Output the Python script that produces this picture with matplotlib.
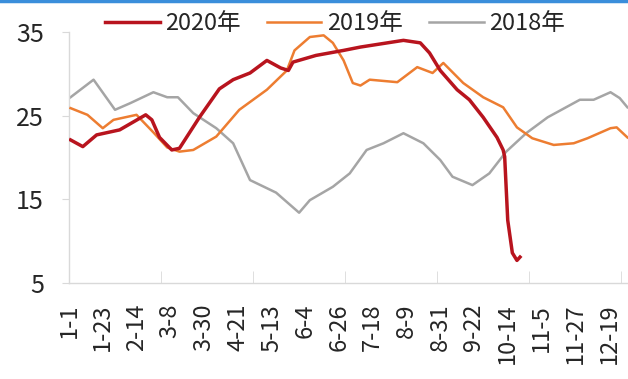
import matplotlib
matplotlib.use("Agg")
import matplotlib.pyplot as plt
from matplotlib.lines import Line2D

plt.rcParams['font.family'] = ['Noto Sans CJK SC', 'DejaVu Sans']
plt.rcParams['font.weight'] = 'medium'

# tick labels (every 22 days)
tick_days = list(range(0, 353, 22))
tick_labels = ['1-1', '1-23', '2-14', '3-8', '3-30', '4-21', '5-13', '6-4', '6-26',
               '7-18', '8-9', '8-31', '9-22', '10-14', '11-5', '11-27', '12-19']

# 2020 (day of year, value)
d2020 = [1, 9, 18, 33, 50, 54, 59, 67, 72, 85, 98, 107, 118, 129, 138, 143, 146, 161,
         179, 190, 218, 229, 235, 242, 253, 261, 270, 279, 283, 284, 286, 289, 292, 294]
v2020 = [22.1, 21.3, 22.7, 23.3, 25.1, 24.5, 22.4, 20.9, 21.1, 24.8, 28.2, 29.3, 30.1,
         31.6, 30.7, 30.4, 31.4, 32.2, 32.8, 33.2, 34.0, 33.7, 32.5, 30.4, 28.1, 26.9,
         24.8, 22.4, 20.9, 20.1, 12.5, 8.6, 7.7, 8.1]

# 2019
d2019 = [1, 12, 22, 29, 44, 55, 64, 72, 81, 96, 111, 129, 142, 147, 157, 166, 172, 179,
         185, 190, 196, 214, 227, 237, 244, 257, 270, 283, 292, 302, 316, 329, 338, 353,
         357, 364]
v2019 = [25.9, 25.1, 23.5, 24.5, 25.1, 23.0, 21.2, 20.7, 20.9, 22.5, 25.7, 28.1, 30.4,
         32.8, 34.4, 34.6, 33.7, 31.6, 28.9, 28.6, 29.3, 29.0, 30.8, 30.1, 31.3, 28.9,
         27.2, 26.0, 23.6, 22.3, 21.5, 21.7, 22.3, 23.5, 23.6, 22.4]

# 2018
d2018 = [1, 16, 30, 40, 55, 64, 71, 81, 96, 107, 118, 135, 150, 157, 172, 183, 194, 205,
         218, 231, 242, 250, 263, 274, 285, 298, 312, 333, 342, 353, 359, 364]
v2018 = [27.2, 29.3, 25.7, 26.5, 27.8, 27.2, 27.2, 25.3, 23.5, 21.7, 17.3, 15.8, 13.4,
         14.9, 16.5, 18.1, 20.9, 21.7, 22.9, 21.7, 19.7, 17.7, 16.7, 18.1, 20.7, 22.9,
         24.8, 26.9, 26.9, 27.8, 27.1, 26.0]

fig = plt.figure(figsize=(6.28, 3.79), dpi=100)
ax = fig.add_axes([0.1099, 0.2533, 0.8901, 0.6623])

ax.plot(d2018, v2018, color='#A5A5A5', lw=1.8, label='2018年', zorder=2)
ax.plot(d2019, v2019, color='#ED7D31', lw=1.8, label='2019年', zorder=3)
ax.plot(d2020, v2020, color='#B8141E', lw=2.5, label='2020年', zorder=4)

ax.set_xlim(0, 364.4)
ax.set_ylim(5, 35)
ax.set_yticks([5, 15, 25, 35])
ax.set_xticks(tick_days)
ax.set_xticklabels(tick_labels, rotation=90, va='top')
ax.set_xticks(range(0, 361, 60), minor=True)

for s in ['top', 'right']:
    ax.spines[s].set_visible(False)
for s in ['left', 'bottom']:
    ax.spines[s].set_color('#D9D9D9')
    ax.spines[s].set_linewidth(1)

ax.tick_params(axis='x', which='major', length=0, pad=15, labelsize=17, labelcolor='#262626')
ax.tick_params(axis='x', which='minor', direction='in', length=9, color='#D9D9D9')
ax.tick_params(axis='y', length=5, color='#D9D9D9', pad=13, labelsize=18, labelcolor='#262626')

handles, labels = ax.get_legend_handles_labels()
order = [2, 1, 0]
fig.legend([handles[i] for i in order], [labels[i] for i in order],
           loc='center', bbox_to_anchor=(0.534, 0.937), ncol=3, frameon=False,
           fontsize=17, handlelength=2.3, handletextpad=0.25, columnspacing=1.1,
           labelcolor='#262626')

# blue frame line at the top
fig.add_artist(Line2D([0, 1], [0.997, 0.997], color='#3A8EDB', lw=2.5))

fig.savefig('out.png', dpi=100)
